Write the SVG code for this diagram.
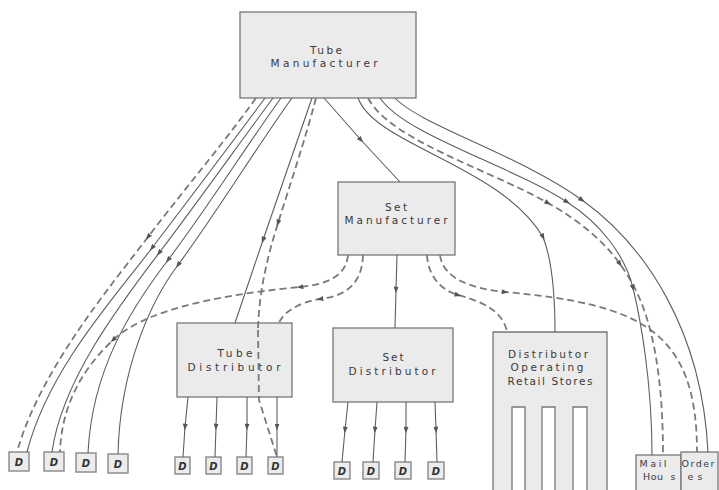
<svg xmlns="http://www.w3.org/2000/svg" width="719" height="490" viewBox="0 0 719 490">
<style>
.box{fill:#ebebeb;stroke:#777;stroke-width:1.3}
.dbox{fill:#ececec;stroke:#888;stroke-width:1.4}
.t{font-family:"DejaVu Sans","Liberation Sans",sans-serif;font-size:10.5px;fill:#3a3a3a;text-anchor:middle}
.m{font-size:9.5px}
.dt{font-family:"DejaVu Sans","Liberation Sans",sans-serif;font-size:10px;font-weight:bold;font-style:italic;fill:#333;text-anchor:middle}
.s{fill:none;stroke:#5f5f5f;stroke-width:1.1}
.d{fill:none;stroke:#7a7a7a;stroke-width:1.8;stroke-dasharray:7 4}
</style>
<defs>
<marker id="ah" viewBox="0 0 8 6" refX="4" refY="3" markerWidth="7" markerHeight="5" markerUnits="userSpaceOnUse" orient="auto">
<path d="M0,0 L8,3 L0,6 z" fill="#555"/>
</marker>
</defs>
<rect width="719" height="490" fill="#fff"/>

<g id="tube-manufacturer">
<rect class="box" x="240" y="12" width="176" height="86"/>
<text class="t" x="326" y="54" textLength="32" lengthAdjust="spacing">Tube</text>
<text class="t" x="324" y="67" textLength="107" lengthAdjust="spacing">Manufacturer</text>
</g>

<g id="set-manufacturer">
<rect class="box" x="338" y="182" width="117" height="73"/>
<text class="t" x="396" y="211" textLength="22" lengthAdjust="spacing">Set</text>
<text class="t" x="396" y="224" textLength="103" lengthAdjust="spacing">Manufacturer</text>
</g>

<g id="tube-distributor">
<rect class="box" x="177" y="323" width="115" height="74"/>
<text class="t" x="235" y="357" textLength="35" lengthAdjust="spacing">Tube</text>
<text class="t" x="234" y="371" textLength="93" lengthAdjust="spacing">Distributor</text>
</g>

<g id="set-distributor">
<rect class="box" x="333" y="328" width="120" height="74"/>
<text class="t" x="393" y="361" textLength="21" lengthAdjust="spacing">Set</text>
<text class="t" x="392" y="375" textLength="87" lengthAdjust="spacing">Distributor</text>
</g>

<g id="distributor-operating-retail-stores">
<polygon class="box" points="493,493 493,332 607,332 607,493 587,493 587,407 573,407 573,493 555,493 555,407 542,407 542,493 525,493 525,407 512,407 512,493"/>
<text class="t" x="548" y="358" textLength="80" lengthAdjust="spacing">Distributor</text>
<text class="t" x="547" y="371" textLength="73" lengthAdjust="spacing">Operating</text>
<text class="t" x="550" y="385" textLength="85" lengthAdjust="spacing">Retail Stores</text>
</g>

<g id="mail-order-houses">
<rect class="box" x="636" y="455" width="45" height="40"/>
<rect class="box" x="681" y="452" width="37" height="43"/>
<text class="t m" x="653" y="467" textLength="27" lengthAdjust="spacing">Mail</text>
<text class="t m" x="698" y="467" textLength="33" lengthAdjust="spacing">Order</text>
<text class="t m" x="653" y="480" textLength="20" lengthAdjust="spacing">Hou</text>
<text class="t m" x="673" y="480">s</text>
<text class="t m" x="695" y="480" textLength="15" lengthAdjust="spacing">es</text>
</g>

<g id="dealer-1"><rect class="dbox" x="9" y="452" width="20" height="19"/><text class="dt" x="19" y="466">D</text></g>
<g id="dealer-2"><rect class="dbox" x="44" y="452" width="20" height="19"/><text class="dt" x="54" y="466">D</text></g>
<g id="dealer-3"><rect class="dbox" x="76" y="453" width="20" height="19"/><text class="dt" x="86" y="467">D</text></g>
<g id="dealer-4"><rect class="dbox" x="108" y="454" width="20" height="19"/><text class="dt" x="118" y="468">D</text></g>

<g id="dealer-5"><rect class="dbox" x="175" y="457" width="15" height="17"/><text class="dt" x="182.5" y="470">D</text></g>
<g id="dealer-6"><rect class="dbox" x="206" y="457" width="15" height="17"/><text class="dt" x="213.5" y="470">D</text></g>
<g id="dealer-7"><rect class="dbox" x="237" y="457" width="15" height="17"/><text class="dt" x="244.5" y="470">D</text></g>
<g id="dealer-8"><rect class="dbox" x="268" y="457" width="15" height="17"/><text class="dt" x="275.5" y="470">D</text></g>

<g id="dealer-9"><rect class="dbox" x="334" y="462" width="16" height="17"/><text class="dt" x="342" y="475">D</text></g>
<g id="dealer-10"><rect class="dbox" x="363" y="462" width="16" height="17"/><text class="dt" x="371" y="475">D</text></g>
<g id="dealer-11"><rect class="dbox" x="395" y="462" width="16" height="17"/><text class="dt" x="403" y="475">D</text></g>
<g id="dealer-12"><rect class="dbox" x="428" y="462" width="16" height="17"/><text class="dt" x="436" y="475">D</text></g>

<g id="connectors">
<path class="d" marker-mid="url(#ah)" d="M256,98 C220,148 186,187 148,237 C110,287 40,370 17,452"/>
<path class="s" marker-mid="url(#ah)" d="M265,98 C228,148 190,198 152,248 C114,298 48,370 27,452"/>
<path class="s" marker-mid="url(#ah)" d="M273,98 C236,148 197,203 159,253 C121,303 62,380 52,452"/>
<path class="s" marker-mid="url(#ah)" d="M281,98 C245,148 206,210 168,260 C130,310 92,370 88,453"/>
<path class="s" marker-mid="url(#ah)" d="M292,98 C256,148 215,215 178,265 C150,302 120,370 118,454"/>
<path class="s" marker-mid="url(#ah)" d="M312,98 L263,240 L235,323"/>
<path class="d" marker-mid="url(#ah)" d="M316,98 C305,140 290,185 278,223 C268,255 259,290 258,330"/>
<path class="d" d="M258,330 L259,400 L277,457"/>
<path class="s" marker-mid="url(#ah)" d="M324,98 L361,140 L400,182"/>
<path class="s" marker-mid="url(#ah)" d="M358,98 C375,145 500,165 543,237 C552,260 555,295 555,332"/>
<path class="d" marker-mid="url(#ah)" d="M368,98 C390,140 490,170 548,203 C578,220 603,240 620,264 C637,288 663,330 663,455"/>
<path class="s" marker-mid="url(#ah)" d="M380,98 C405,135 510,165 567,202 C600,223 625,255 633,288 C640,317 652,380 652,455"/>
<path class="s" marker-mid="url(#ah)" d="M395,98 C420,125 520,155 582,200 C645,245 702,330 708,452"/>
<path class="s" marker-mid="url(#ah)" d="M397,255 L396,290 L395,328"/>
<path class="d" marker-mid="url(#ah)" d="M348,255 C346,275 330,284 300,287 C240,293 150,305 113,340 C92,360 62,395 60,452"/>
<path class="d" marker-mid="url(#ah)" d="M363,255 C362,285 345,296 320,299 C300,302 283,312 279,323"/>
<path class="d" marker-mid="url(#ah)" d="M427,255 C428,275 440,290 458,295 C480,301 503,310 507,332"/>
<path class="d" marker-mid="url(#ah)" d="M440,255 C443,280 475,289 505,292 C640,304 697,330 697,452"/>
<path class="s" marker-mid="url(#ah)" d="M188,397 L185,427 L183,457"/>
<path class="s" marker-mid="url(#ah)" d="M217,397 L216,427 L215,457"/>
<path class="s" marker-mid="url(#ah)" d="M247,397 L247,427 L246,457"/>
<path class="s" marker-mid="url(#ah)" d="M277,397 L277,427 L277,457"/>
<path class="s" marker-mid="url(#ah)" d="M348,402 L345,430 L342,462"/>
<path class="s" marker-mid="url(#ah)" d="M377,402 L375,430 L373,462"/>
<path class="s" marker-mid="url(#ah)" d="M406,402 L406,430 L405,462"/>
<path class="s" marker-mid="url(#ah)" d="M435,402 L436,430 L437,462"/>
</g>
</svg>
